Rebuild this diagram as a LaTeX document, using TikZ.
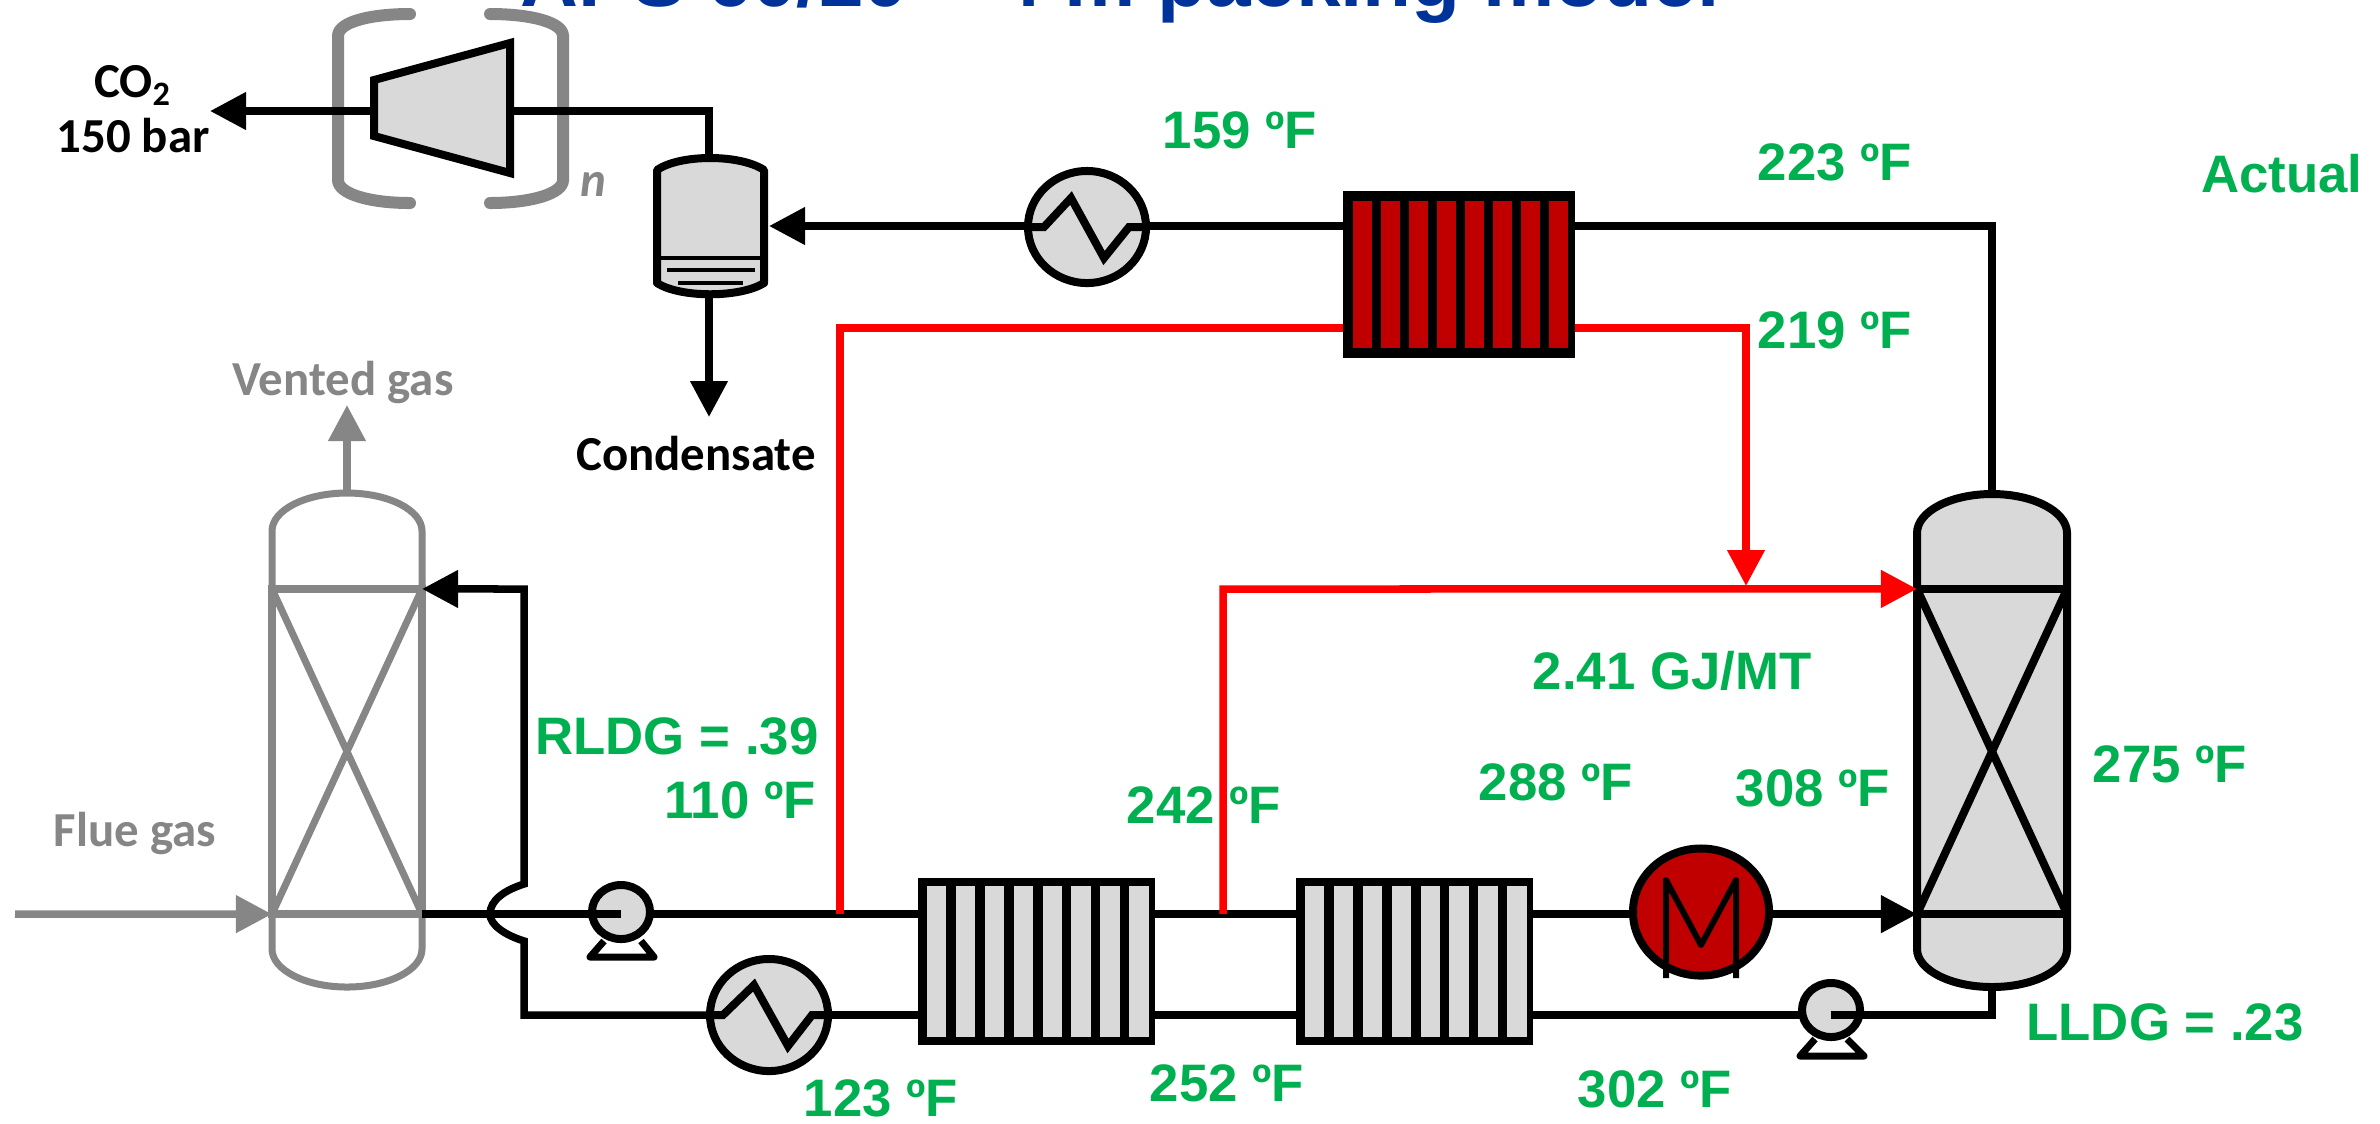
\documentclass[tikz,border=0pt]{standalone}
\usepackage{fontspec}
\setmainfont{Liberation Sans}
\newfontfamily\calloutfont{Carlito}
\usepackage{tikz}
\usetikzlibrary{arrows.meta}
\usetikzlibrary{calc}
\usetikzlibrary{shapes.geometric}
\definecolor{tempgreen}{HTML}{00B050}
\definecolor{titleblue}{HTML}{003399}
\definecolor{vesselgrey}{HTML}{D9D9D9}
\definecolor{ventgrey}{HTML}{868686}
\definecolor{hotred}{HTML}{C00000}
\tikzset{
  stream/.style={draw=black, line width=0.075cm, line join=miter},
  redstream/.style={draw=red, line width=0.075cm},
  ventstream/.style={draw=ventgrey, line width=0.075cm},
  tipped/.style={-{Triangle[length=0.36cm, width=0.36cm]}},
  vessel/.style={draw=black, fill=vesselgrey, line width=0.08cm},
  packing/.style={rectangle, draw, line width=0.08cm, inner sep=0pt, outer sep=0pt, minimum width=1.5cm, minimum height=3.25cm},
  hxbox/.style={rectangle, fill=black, inner sep=0pt, outer sep=0pt, minimum width=2.37cm, minimum height=1.67cm},
  coolerbox/.style={ellipse, draw=black, fill=vesselgrey, line width=0.08cm, inner sep=0pt, outer sep=0pt, minimum width=1.18cm, minimum height=1.12cm},
  pumpbox/.style={ellipse, draw=black, fill=vesselgrey, line width=0.08cm, inner sep=0pt, outer sep=0pt, minimum width=0.58cm, minimum height=0.54cm},
  templabel/.style={text=tempgreen, font=\fontsize{15}{18}\selectfont\bfseries, inner sep=0pt},
  calloutlabel/.style={text=black, font=\fontsize{13.9}{15.6}\selectfont\calloutfont\bfseries, inner sep=0pt, align=center},
}
\begin{document}
\begin{tikzpicture}[x=0.01cm, y=-0.01cm]
      \useasboundingbox (0,0) rectangle (2380,1123);
      \fill[white] (0,0) rectangle (2380,1123);
      \node[anchor=base, text=titleblue, font=\fontsize{22.8}{26}\selectfont\bfseries, inner sep=0pt] (title) at (1120,6) {APS 60/20 -- 4 m packing model};

      \coordinate (absTop) at (347,493);
      \coordinate (stripTop) at (1992,494);
      \coordinate (stripBottom) at (1992,987);
      \coordinate (sepTop) at (709,159);
      \coordinate (sepBottom) at (709,292);
      \coordinate (sepInlet) at (769,226);
      \coordinate (compOut) at (374,111);
      \coordinate (compIn) at (510,111);
      \coordinate (co2End) at (210,111);
      \coordinate (condEnd) at (709,417);
      \coordinate (ventEnd) at (347,405);
      \coordinate (flueStart) at (15,914);
      \coordinate (leanTee) at (840,914);
      \coordinate (richTee) at (1223,914);
      \coordinate (hotEast) at (1575,328);
      \coordinate (hotWest) at (1343,328);
      \coordinate (splitTee) at (1746,586);
      \coordinate (richFeed) at (1223,589);
      \coordinate (hotOut) at (1575,226);
      \coordinate (hotIn) at (1343,226);

      \draw[ventgrey, line width=0.12cm, line cap=round] (410,14) .. controls (370,14) and (338,22) .. (338,36) -- (338,180) .. controls (338,194) and (370,203) .. (410,203);
      \draw[ventgrey, line width=0.12cm, line cap=round] (490,14) .. controls (530,14) and (563,22) .. (563,36) -- (563,180) .. controls (563,194) and (530,203) .. (490,203);
      \node[text=ventgrey, font=\fontsize{13.9}{15.6}\selectfont\calloutfont\bfseries\itshape, inner sep=0pt] (stageCount) at (593,184) {n};

      \draw[stream] (sepTop) |- (compIn);
      \draw[stream, tipped] (compOut) -- (co2End);
      \draw[vessel, line join=miter] (374,80) -- (510,43) -- (510,173) -- (374,136) -- cycle;
      \draw[vessel, line join=round] (657,170) .. controls (680,154) and (740,154) .. (764,170) -- (764,283) .. controls (740,298) and (680,298) .. (657,283) -- cycle;
      \draw[black, line width=0.035cm] (657,258) -- (764,258);
      \draw[black, line width=0.035cm] (667,270) -- (755,270);
      \draw[black, line width=0.035cm] (678,283) -- (743,283);
      \draw[stream, tipped] (sepBottom) -- (condEnd);

      \node[coolerbox] (topCooler) at (1087,227) {};
      \draw[black, line width=0.08cm] (1027,227) -- (1044,227) -- (1071,198) -- (1104,258) -- (1129,227) -- (1147,227);
      \draw[stream, tipped] (topCooler.west |- sepInlet) -- (sepInlet);
      \draw[stream] (hotIn) -- (topCooler.east |- hotIn);
      \draw[stream] (hotOut) -- (1992,226) -- (stripTop);

      \draw[ventgrey, line width=0.07cm] (272,531) arc[start angle=180, end angle=360, x radius=75, y radius=38] -- (422,949) arc[start angle=0, end angle=180, x radius=75, y radius=38] -- cycle;
      \node[packing, draw=ventgrey] (absPack) at (347,751.5) {};
      \draw[ventgrey, line width=0.07cm] (absPack.north west) -- (absPack.south east);
      \draw[ventgrey, line width=0.07cm] (absPack.north east) -- (absPack.south west);
      \draw[ventstream, tipped] (absTop) -- (ventEnd);
      \draw[ventstream, tipped] (flueStart) -- (absPack.south west);

      \draw[vessel] (1917,533) arc[start angle=180, end angle=360, x radius=75, y radius=39] -- (2067,949) arc[start angle=0, end angle=180, x radius=75, y radius=38] -- cycle;
      \node[packing] (stripPack) at (1992,751.5) {};
      \draw[black, line width=0.08cm] (stripPack.north west) -- (stripPack.south east);
      \draw[black, line width=0.08cm] (stripPack.north east) -- (stripPack.south west);

      \node[hxbox] (hotHX) at (1459,274.5) [minimum width=2.32cm] {};
      \node[hxbox] (leanHX) at (1036.5,961.5) {};
      \node[hxbox] (richHX) at (1414.5,961.5) {};
      \foreach \hx/\col/\mx/\my/\pitch in {hotHX/hotred/10/10/28, leanHX/vesselgrey/9/8/28.9, richHX/vesselgrey/9/8/28.9} {
        \foreach \i in {0,...,7} {
          \fill[\col] ($(\hx.north west)+(\mx+\i*\pitch,\my)$) rectangle +(19.5,167-2*\my);
        }
      }

      \node[pumpbox] (leanPump) at (621,912) {};
      \draw[black, line width=0.07cm, line join=round] (604,941) -- (590,957) -- (654,957) -- (641,941);
      \node[pumpbox] (richPump) at (1831,1010) {};
      \draw[black, line width=0.07cm, line join=round] (1815,1039) -- (1800,1056) -- (1864,1056) -- (1847,1039);
      \node[coolerbox] (leanCooler) at (769,1015) {};
      \draw[black, line width=0.08cm] (707,1015) -- (723,1015) -- (754,985) -- (788,1046) -- (812,1015) -- (830,1015);
      \node[ellipse, draw=black, fill=hotred, line width=0.08cm, inner sep=0pt, outer sep=0pt, minimum width=1.36cm, minimum height=1.27cm] (reboiler) at (1701,912) {};
      \draw[black, line width=0.06cm, line join=round] (1666,978) -- (1666,880) -- (1701,945) -- (1736,880) -- (1736,978);

      \draw[stream, tipped] (leanCooler.west) -- (524,1015) -- (524,941) .. controls (505,935) and (490,925) .. (490,914) .. controls (490,900) and (505,890) .. (524,884) -- (524,589) -- (absPack.north east);
      \draw[stream] (absPack.south east) -- (leanPump.center |- absPack.south east);
      \draw[stream] (leanPump.east |- absPack.south east) -- (leanHX.west |- absPack.south east);
      \draw[stream] (leanHX.east |- absPack.south east) -- (richHX.west |- absPack.south east);
      \draw[stream] (richHX.east |- absPack.south east) -- (reboiler.west |- absPack.south east);
      \draw[stream, tipped] (reboiler.east |- absPack.south east) -- (stripPack.south west);
      \draw[stream] (leanCooler.east) -- (leanHX.west |- leanCooler.east);
      \draw[stream] (leanHX.east |- leanCooler.east) -- (richHX.west |- leanCooler.east);
      \draw[stream] (richHX.east |- leanCooler.east) -- (richPump.west |- leanCooler.east);
      \draw[stream] (stripBottom) -- (1992,1015) -- (richPump.center |- leanCooler.east);

      \draw[redstream] (hotWest) -- (840,328) -- (leanTee);
      \draw[redstream, tipped] (hotEast) -- (1746,328) -- (splitTee);
      \draw[redstream, tipped] (richTee) -- (richFeed) -- (stripPack.north west);

      \node[calloutlabel] (co2Label) at (133,109) {CO\textsubscript{2}\\150 bar};
      \node[calloutlabel] (condLabel) at (696,454) {Condensate};
      \node[calloutlabel, text=ventgrey] (ventLabel) at (343,382) {Vented gas};
      \node[calloutlabel, text=ventgrey] (flueLabel) at (135,833) {Flue gas};

      \node[templabel] (actualLabel) at (2282,174) {Actual};
      \node[templabel] (t159) at (1240,130) {159 ºF};
      \node[templabel] (t223) at (1835,162) {223 ºF};
      \node[templabel] (t219) at (1835,330) {219 ºF};
      \node[templabel] (rldgLabel) at (677,736) {RLDG = .39};
      \node[templabel] (t110) at (740,800) {110 ºF};
      \node[templabel] (t242) at (1204,805) {242 ºF};
      \node[templabel] (dutyLabel) at (1672,671) {2.41 GJ/MT};
      \node[templabel] (t288) at (1556,782) {288 ºF};
      \node[templabel] (t308) at (1813,788) {308 ºF};
      \node[templabel] (t275) at (2170,764) {275 ºF};
      \node[templabel] (lldgLabel) at (2165,1022) {LLDG = .23};
      \node[templabel] (t302) at (1655,1089) {302 ºF};
      \node[templabel] (t252) at (1227,1083) {252 ºF};
      \node[templabel] (t123) at (881,1098) {123 ºF};
    \end{tikzpicture}
\end{document}
